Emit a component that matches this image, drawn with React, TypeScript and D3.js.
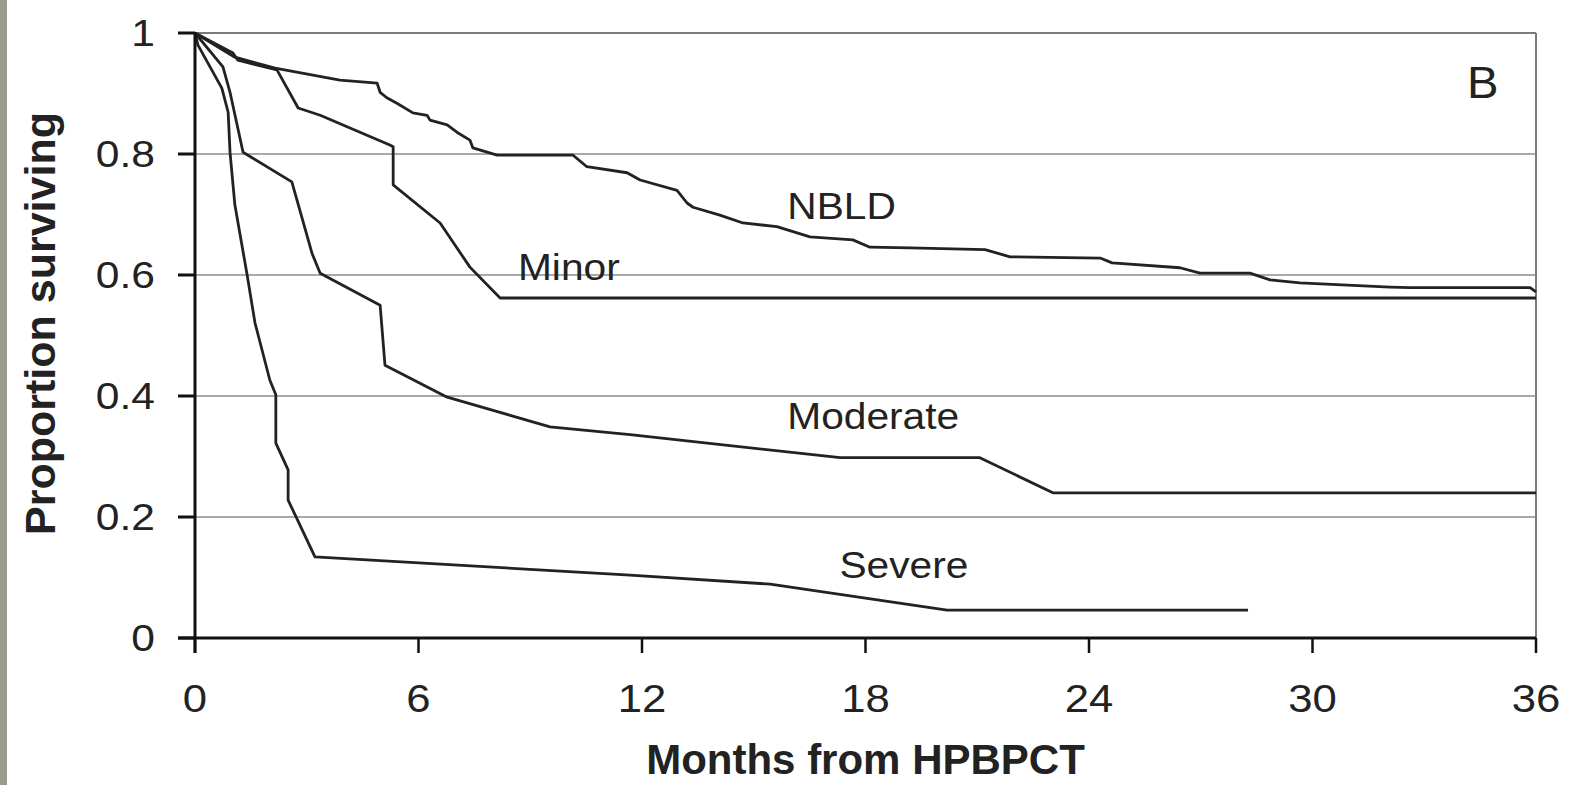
import React from 'react'
import * as d3 from 'd3'

// values (months, proportion surviving)
const nbldMonths = [0, 1.07, 2.15, 3.89, 4.89, 4.97, 5.15, 5.42, 5.85, 6.23, 6.31, 6.77, 7.03, 7.38, 7.46, 8.11, 10.15, 10.52, 11.6, 11.95, 12.94, 13.21, 13.37, 14.09, 14.71, 15.62, 16.51, 17.66, 18.12, 19.19, 21.21, 21.88, 24.3, 24.62, 26.44, 26.98, 28.32, 28.86, 29.66, 32.08, 32.62, 35.84, 36]
const nbldValues = [1, 0.96, 0.942, 0.922, 0.917, 0.902, 0.893, 0.884, 0.868, 0.864, 0.856, 0.848, 0.836, 0.823, 0.81, 0.798, 0.798, 0.779, 0.769, 0.757, 0.74, 0.719, 0.712, 0.699, 0.686, 0.68, 0.663, 0.658, 0.646, 0.645, 0.642, 0.63, 0.628, 0.62, 0.612, 0.603, 0.603, 0.592, 0.587, 0.58, 0.579, 0.579, 0.572]

const minorMonths = [0, 1.02, 1.15, 2.2, 2.77, 3.36, 5.23, 5.32, 5.32, 6.58, 7.38, 8.19, 36]
const minorValues = [1, 0.967, 0.955, 0.939, 0.876, 0.864, 0.815, 0.812, 0.749, 0.686, 0.613, 0.562, 0.562]

const moderateMonths = [0, 0.75, 0.94, 1.29, 2.6, 3.14, 3.36, 4.97, 5.1, 6.77, 9.53, 11.68, 17.32, 21.07, 23.03, 36]
const moderateValues = [1, 0.944, 0.902, 0.803, 0.754, 0.636, 0.603, 0.55, 0.451, 0.398, 0.349, 0.336, 0.298, 0.298, 0.24, 0.24]

const severeMonths = [0, 0.08, 0.72, 0.89, 0.94, 1.07, 1.4, 1.61, 2.01, 2.17, 2.17, 2.5, 2.5, 3.22, 11.68, 15.44, 20.19, 28.27]
const severeValues = [1, 0.98, 0.909, 0.869, 0.803, 0.716, 0.6, 0.521, 0.426, 0.402, 0.322, 0.278, 0.228, 0.134, 0.104, 0.089, 0.046, 0.046]

const xTicks = [0, 6, 12, 18, 24, 30, 36]
const yTicks = [0, 0.2, 0.4, 0.6, 0.8, 1]
const yTickLabels = ['0', '0.2', '0.4', '0.6', '0.8', '1']

const curveLabels = [
  { text: 'NBLD', month: 15.9, value: 0.692 },
  { text: 'Minor', month: 8.67, value: 0.592 },
  { text: 'Moderate', month: 15.9, value: 0.345 },
  { text: 'Severe', month: 17.3, value: 0.1 }
]

const W = 1569
const H = 785
const left = 195
const right = 1536
const top = 33
const bottom = 638
const font = 'Liberation Sans, Arial, sans-serif'
const ink = '#222'

const App = () => {
  const x = d3.scaleLinear().domain([0, 36]).range([left, right])
  const y = d3.scaleLinear().domain([0, 1]).range([bottom, top])
  const line = d3
    .line<[number, number]>()
    .x(d => x(d[0]))
    .y(d => y(d[1]))

  const series = [
    [nbldMonths, nbldValues],
    [minorMonths, minorValues],
    [moderateMonths, moderateValues],
    [severeMonths, severeValues]
  ].map(([m, v]) => m.map((t, i) => [t, v[i]] as [number, number]))

  return (
    <svg
      width={W}
      height={H}
      style={{ position: 'fixed', left: 0, top: 0, background: '#fff' }}
    >
      <rect x={0} y={0} width={W} height={H} fill="#fff" />
      <rect x={0} y={0} width={7} height={H} fill="#9b9b89" />

      {/* grid */}
      {yTicks.slice(1, 5).map(t => (
        <line key={t} x1={left} x2={right} y1={y(t)} y2={y(t)} stroke="#8c8c8c" strokeWidth={1.5} />
      ))}
      <line x1={left} x2={right} y1={top} y2={top} stroke="#7a7a7a" strokeWidth={2} />
      <line x1={right} x2={right} y1={top} y2={bottom} stroke="#7a7a7a" strokeWidth={2} />

      {/* curves */}
      {series.map((s, i) => (
        <path key={i} d={line(s) || ''} fill="none" stroke={ink} strokeWidth={2.8} strokeLinejoin="round" />
      ))}

      {/* axes */}
      <line x1={left} x2={left} y1={top} y2={bottom + 15} stroke="#111" strokeWidth={3} />
      <line x1={left - 17} x2={right} y1={bottom} y2={bottom} stroke="#111" strokeWidth={3} />
      {yTicks.map(t => (
        <line key={t} x1={left - 17} x2={left} y1={y(t)} y2={y(t)} stroke="#111" strokeWidth={3} />
      ))}
      {xTicks.map(t => (
        <line key={t} x1={x(t)} x2={x(t)} y1={bottom} y2={bottom + 15} stroke="#111" strokeWidth={2.5} />
      ))}

      {/* tick labels */}
      {yTicks.map((t, i) => (
        <text
          key={t}
          transform={`translate(155,${y(t) + 13}) scale(1.15,1)`}
          textAnchor="end"
          fontFamily={font}
          fontSize={37}
          fill={ink}
        >
          {yTickLabels[i]}
        </text>
      ))}
      {xTicks.map(t => (
        <text
          key={t}
          transform={`translate(${x(t)},712) scale(1.12,1)`}
          textAnchor="middle"
          fontFamily={font}
          fontSize={39}
          fill={ink}
        >
          {t}
        </text>
      ))}

      {/* curve labels */}
      {curveLabels.map(l => (
        <text
          key={l.text}
          transform={`translate(${x(l.month)},${y(l.value)}) scale(1.1,1)`}
          fontFamily={font}
          fontSize={37}
          fill={ink}
        >
          {l.text}
        </text>
      ))}
      <text transform="translate(1467,98) scale(1.05,1)" fontFamily={font} fontSize={45} fill={ink}>
        B
      </text>

      {/* axis titles */}
      <text
        x={(left + right) / 2}
        y={774}
        textAnchor="middle"
        fontFamily={font}
        fontSize={42}
        fontWeight="bold"
        fill={ink}
      >
        Months from HPBPCT
      </text>
      <text
        transform={`translate(55,${(top + bottom) / 2 - 12}) rotate(-90)`}
        textAnchor="middle"
        fontFamily={font}
        fontSize={43}
        fontWeight="bold"
        fill={ink}
      >
        Proportion surviving
      </text>
    </svg>
  )
}

export default App
